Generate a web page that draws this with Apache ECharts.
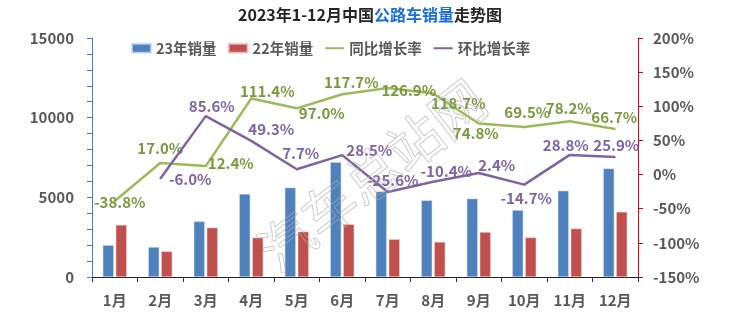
<!DOCTYPE html>
<html><head><meta charset="utf-8">
<script src="https://cdn.jsdelivr.net/npm/echarts@6/dist/echarts.min.js"></script>
<style>html,body{margin:0;padding:0;background:#fff}#c{width:740px;height:327px}</style>
</head><body><div id="c"></div>
<script>
const categories = ['1月','2月','3月','4月','5月','6月','7月','8月','9月','10月','11月','12月'];
const sales23 = [2000, 1880, 3490, 5210, 5610, 7210, 5370, 4810, 4920, 4200, 5410, 6810];
const sales22 = [3270, 1610, 3100, 2470, 2850, 3310, 2370, 2200, 2820, 2480, 3040, 4090];
const yoy = [-38.8, 17.0, 12.4, 111.4, 97.0, 117.7, 126.9, 118.7, 74.8, 69.5, 78.2, 66.7];
const mom = [null, -6.0, 85.6, 49.3, 7.7, 28.5, -25.6, -10.4, 2.4, -14.7, 28.8, 25.9];
const seriesNames = ['23年销量', '22年销量', '同比增长率', '环比增长率'];
const leftAxisRange = [0, 15000, 1000];
const rightAxisRange = [-150, 200, 50];
// label placement (offset of label centre from its point, px)
const yoyLabelOffset = [[5,1],[0,-15],[25,-3],[16,-7],[25,5],[9,-12],[21,2],[25,10],[-3,10],[3,-15],[-1,-13],[-1,-12]];
const momLabelOffset = [[0,0],[30,1],[6,-10],[20,-12],[4,-16],[27,-5],[5,-12],[13,-10],[18,-8],[2,14],[-4,-10],[1,-12]];

const FONT = "'Noto Sans CJK SC','Microsoft YaHei',sans-serif";
const GRAY = '#595959';

function lineData(vals, offs) {
  return vals.map((v, i) => v === null ? null : ({
    value: v,
    label: { show: true, position: 'inside', offset: offs[i] }
  }));
}

const chart = echarts.init(document.getElementById('c'));
chart.setOption({
  animation: false,
  backgroundColor: '#fff',
  textStyle: { fontFamily: FONT },
  title: {
    text: '{a|2023年1-12月中国}{b|公路车销量}{a|走势图}',
    left: 'center', top: 2,
    textStyle: {
      rich: {
        a: { fontSize: 16, fontWeight: 'bold', color: '#262626', fontFamily: FONT },
        b: { fontSize: 16, fontWeight: 'bold', color: '#1a6fe0', fontFamily: FONT }
      }
    }
  },
  legend: {
    left: 131, top: 41, padding: 0,
    itemWidth: 19, itemHeight: 9, itemGap: 11,
    textStyle: { fontSize: 14.5, fontWeight: 'bold', color: GRAY, fontFamily: FONT },
    data: [
      { name: seriesNames[0], icon: 'rect' },
      { name: seriesNames[1], icon: 'rect' },
      { name: seriesNames[2], itemStyle: { opacity: 0 } },
      { name: seriesNames[3], itemStyle: { opacity: 0 } }
    ]
  },
  grid: { left: 92, right: 102, top: 38, bottom: 50, containLabel: false },
  xAxis: {
    type: 'category', data: categories, boundaryGap: true,
    axisLine: { lineStyle: { color: '#222', width: 1 } },
    axisTick: { show: true, length: 5, alignWithLabel: false, lineStyle: { color: '#333' } },
    axisLabel: { fontSize: 15, fontWeight: 'bold', color: GRAY, margin: 16, interval: 0 }
  },
  yAxis: [
    {
      type: 'value', min: leftAxisRange[0], max: leftAxisRange[1], interval: leftAxisRange[2],
      splitLine: { show: false },
      axisLine: { show: true, lineStyle: { color: '#4A7EBB' } },
      axisTick: { show: true, length: 5, lineStyle: { color: '#4A7EBB' } },
      axisLabel: { fontSize: 15, fontWeight: 'bold', color: GRAY, margin: 18,
        formatter: v => (v % 5000 === 0 ? String(v) : '') }
    },
    {
      type: 'value', min: rightAxisRange[0], max: rightAxisRange[1], interval: rightAxisRange[2],
      splitLine: { show: false },
      axisLine: { show: true, lineStyle: { color: '#E00018' } },
      axisTick: { show: true, length: 5, lineStyle: { color: '#E00018' } },
      axisLabel: { fontSize: 15, fontWeight: 'bold', color: GRAY, margin: 15, formatter: v => v + '%' }
    }
  ],
  graphic: [{
    type: 'text', silent: true, z: 100,
    x: 372, y: 175, rotation: 0.66,
    style: {
      text: '汽车总站网', fontSize: 54, fontFamily: FONT, fontWeight: 'normal',
      fill: 'rgba(0,0,0,0)', stroke: 'rgba(170,170,170,0.6)', lineWidth: 1,
      align: 'center', verticalAlign: 'middle'
    }
  }],
  series: [
    {
      name: seriesNames[0], type: 'bar', data: sales23, barWidth: 11, barGap: '18%',
      itemStyle: { color: '#4F81BD', borderColor: 'rgba(200,220,245,0.8)', borderWidth: 0.6 }
    },
    {
      name: seriesNames[1], type: 'bar', data: sales22, barWidth: 11,
      itemStyle: { color: '#C0504D', borderColor: 'rgba(245,200,200,0.8)', borderWidth: 0.6 }
    },
    {
      name: seriesNames[2], type: 'line', yAxisIndex: 1, data: lineData(yoy, yoyLabelOffset),
      symbol: 'circle', symbolSize: 1, z: 5,
      lineStyle: { color: '#9BBB59', width: 2.5 }, itemStyle: { color: '#9BBB59' },
      label: { color: '#789A3E', fontSize: 15, fontWeight: 'bold', formatter: p => p.value.toFixed(1) + '%' }
    },
    {
      name: seriesNames[3], type: 'line', yAxisIndex: 1, data: lineData(mom, momLabelOffset),
      symbol: 'circle', symbolSize: 1, z: 6, connectNulls: false,
      lineStyle: { color: '#8064A2', width: 2.5 }, itemStyle: { color: '#8064A2' },
      label: { color: '#8064A2', fontSize: 15, fontWeight: 'bold', formatter: p => p.value.toFixed(1) + '%' }
    }
  ]
});
</script></body></html>
